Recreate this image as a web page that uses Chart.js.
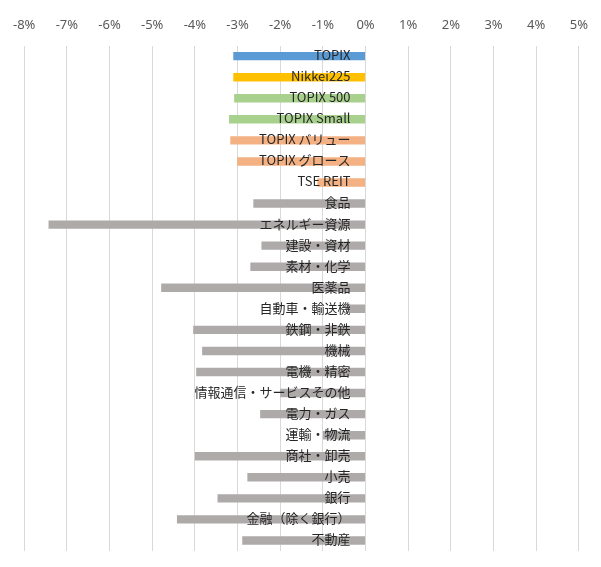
<!DOCTYPE html>
<html>
<head>
<meta charset="utf-8">
<script src="https://cdn.jsdelivr.net/npm/chart.js@4"></script>
<style>
  html, body { margin: 0; padding: 0; background: #fff; }
  #wrap { width: 601px; height: 567px; }
</style>
</head>
<body>
<div id="wrap"><canvas id="returnChart"></canvas></div>
<script>
let categories = [
    'TOPIX', 'Nikkei225', 'TOPIX 500', 'TOPIX Small', 'TOPIX バリュー', 'TOPIX グロース', 'TSE REIT',
    '食品', 'エネルギー資源', '建設・資材', '素材・化学', '医薬品', '自動車・輸送機', '鉄鋼・非鉄',
    '機械', '電機・精密', '情報通信・サービスその他', '電力・ガス', '運輸・物流', '商社・卸売',
    '小売', '銀行', '金融（除く銀行）', '不動産'
];
let returns = [
    -3.10, -3.10, -3.08, -3.20, -3.17, -3.01, -1.13,
    -2.63, -7.43, -2.44, -2.70, -4.79, -0.42, -4.04,
    -3.83, -3.97, -2.00, -2.47, -1.00, -4.00,
    -2.77, -3.47, -4.42, -2.89
];
let barColors = [
    '#5B9BD5', '#FFC000', '#A9D18E', '#A9D18E', '#F4B183', '#F4B183', '#F4B183'
];
let xTicks = [-8, -7, -6, -5, -4, -3, -2, -1, 0, 1, 2, 3, 4, 5];

let colors = categories.map((c, i) => barColors[i] || '#AEAAAA');

// category names drawn right-aligned just left of the 0% line
let innerLabels = {
    id: 'innerLabels',
    afterDatasetsDraw(chart) {
        let ctx = chart.ctx;
        let x0 = chart.scales.x.getPixelForValue(0);
        let meta = chart.getDatasetMeta(0);
        ctx.save();
        ctx.font = '13px "Noto Sans CJK JP", "Noto Sans", sans-serif';
        ctx.fillStyle = '#262626';
        ctx.textAlign = 'right';
        ctx.textBaseline = 'middle';
        meta.data.forEach((bar, i) => {
            ctx.fillText(categories[i], x0 - 15, bar.y - 1);
        });
        ctx.restore();
    }
};

new Chart(document.getElementById('returnChart'), {
    type: 'bar',
    data: {
        labels: categories,
        datasets: [{
            data: returns,
            backgroundColor: colors,
            borderWidth: 0,
            barPercentage: 0.4,
            categoryPercentage: 1.0
        }]
    },
    options: {
        indexAxis: 'y',
        responsive: true,
        maintainAspectRatio: false,
        animation: false,
        layout: { padding: { left: 12, right: 8, top: 4, bottom: 16 } },
        plugins: {
            legend: { display: false },
            tooltip: { enabled: false }
        },
        scales: {
            x: {
                position: 'top',
                min: -8,
                max: 5,
                afterBuildTicks: (axis) => { axis.ticks = xTicks.map(v => ({ value: v })); },
                ticks: {
                    callback: (v) => v + '%',
                    color: '#595959',
                    font: { family: '"Noto Sans", sans-serif', size: 13 },
                    padding: 13,
                    maxRotation: 0
                },
                grid: { color: '#D9D9D9', drawTicks: false },
                border: { display: false }
            },
            y: {
                display: false
            }
        }
    },
    plugins: [innerLabels]
});
</script>
</body>
</html>
